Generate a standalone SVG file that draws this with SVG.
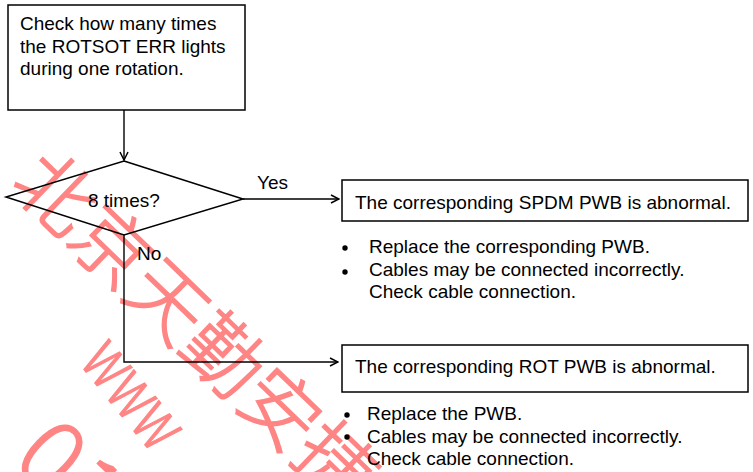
<svg xmlns="http://www.w3.org/2000/svg" width="753" height="472" viewBox="0 0 753 472">
  <style>
    .box { fill: none; stroke: #000; stroke-width: 1.5; }
    .line { fill: none; stroke: #000; stroke-width: 1.4; }
    .t { font-family: "Liberation Sans", Arial, sans-serif; font-size: 19px; fill: #000; }
    .wm { font-family: "Noto Sans CJK SC", "Liberation Sans", sans-serif; fill: #ff8585; stroke: #ff8585; stroke-width: 1.5; font-weight: 300; }
  </style>
  <defs>
    <marker id="arrow" viewBox="0 0 10 10" refX="9" refY="5" markerWidth="10" markerHeight="10" markerUnits="userSpaceOnUse" orient="auto">
      <path d="M1,1 L9,5 L1,9" fill="none" stroke="#000" stroke-width="1.5"/>
    </marker>
  </defs>
  <rect width="753" height="472" fill="#fff"/>

  <!-- background stamp -->
  <g id="stamp">
    <text class="wm" font-size="78" transform="translate(8,186) rotate(44)">北京天勤安捷</text>
    <text class="wm" font-size="72" transform="translate(78,362) rotate(51) scale(0.72,1)">www</text>
    <text class="wm" font-size="96" transform="translate(10,462) rotate(44)">01</text>
  </g>

  <!-- connectors -->
  <g id="connectors">
    <line class="line" x1="124" y1="110" x2="124" y2="160" marker-end="url(#arrow)"/>
    <line class="line" x1="243" y1="199" x2="339" y2="199" marker-end="url(#arrow)"/>
    <polyline class="line" points="124,235 124,362 338,362" marker-end="url(#arrow)"/>
    <text class="t" x="257" y="189">Yes</text>
    <text class="t" x="137" y="260">No</text>
  </g>

  <g id="check">
    <rect class="box" x="8" y="5" width="237" height="105"/>
    <text class="t" x="20" y="30">Check how many times</text>
    <text class="t" x="20" y="52.5">the ROTSOT ERR lights</text>
    <text class="t" x="20" y="74.5">during one rotation.</text>
  </g>

  <g id="decision">
    <polygon class="box" points="124,161 243,199 124,235 6,197"/>
    <text class="t" x="88" y="207">8 times?</text>
  </g>

  <g id="spdm">
    <rect class="box" x="342" y="180" width="406" height="41"/>
    <text class="t" x="355" y="209">The corresponding SPDM PWB is abnormal.</text>
    <circle cx="345" cy="248" r="2.7"/>
    <circle cx="345" cy="272" r="2.7"/>
    <text class="t" x="369" y="253">Replace the corresponding PWB.</text>
    <text class="t" x="369" y="276">Cables may be connected incorrectly.</text>
    <text class="t" x="369" y="298">Check cable connection.</text>
  </g>

  <g id="rot">
    <rect class="box" x="342" y="345" width="406" height="47"/>
    <text class="t" x="355" y="373">The corresponding ROT PWB is abnormal.</text>
    <circle cx="347" cy="415" r="2.7"/>
    <circle cx="347" cy="437" r="2.7"/>
    <text class="t" x="367" y="420">Replace the PWB.</text>
    <text class="t" x="367" y="443">Cables may be connected incorrectly.</text>
    <text class="t" x="367" y="465">Check cable connection.</text>
  </g>
</svg>
